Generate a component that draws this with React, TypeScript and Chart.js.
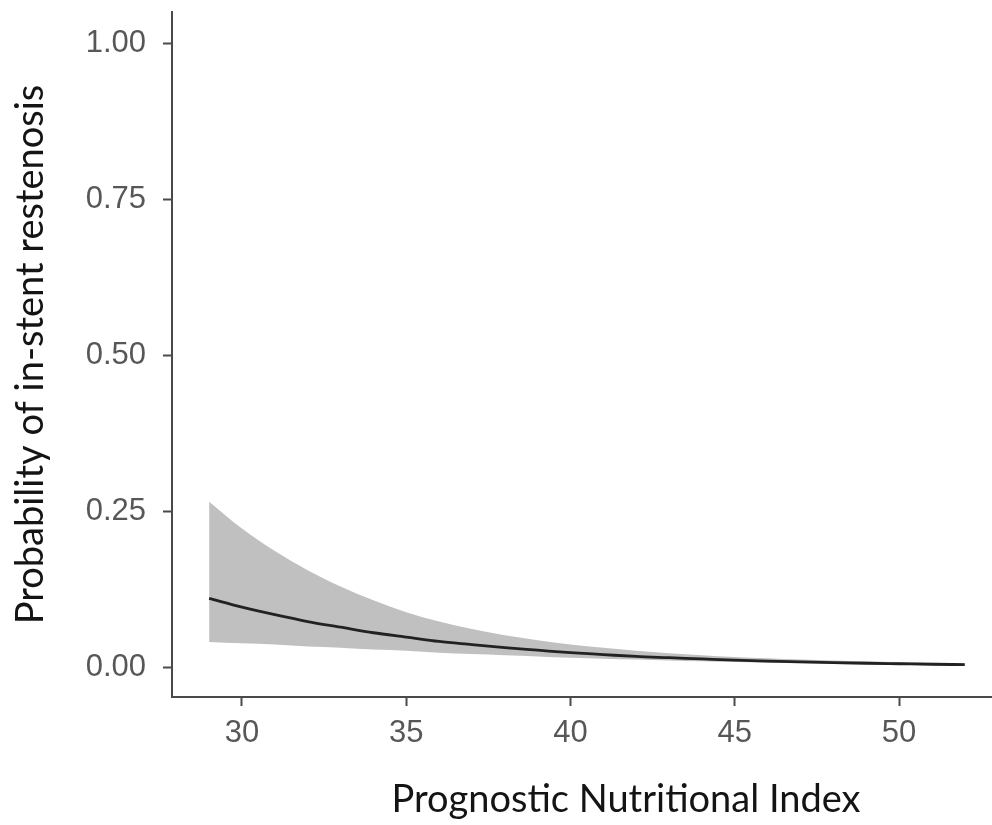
import React, { useEffect, useRef } from "react";
import { Chart, registerables } from "chart.js";

Chart.register(...registerables);

const pniValues = [29, 30, 31, 32, 33, 34, 35, 36, 37, 38, 39, 40, 41, 42, 43, 44, 45, 46, 47, 48, 49, 50, 51, 52];
const fitProb = [0.110, 0.096, 0.084, 0.073, 0.064, 0.055, 0.048, 0.041, 0.036, 0.031, 0.027, 0.023, 0.020, 0.017, 0.015, 0.013, 0.011, 0.0096, 0.0083, 0.0071, 0.0061, 0.0053, 0.0045, 0.0039];
const upperProb = [0.265, 0.222, 0.186, 0.155, 0.129, 0.107, 0.088, 0.073, 0.061, 0.051, 0.043, 0.036, 0.031, 0.026, 0.022, 0.019, 0.016, 0.014, 0.012, 0.0105, 0.0092, 0.0080, 0.0070, 0.0062];
const lowerProb = [0.040, 0.038, 0.036, 0.033, 0.031, 0.028, 0.026, 0.023, 0.021, 0.019, 0.017, 0.015, 0.0135, 0.012, 0.0105, 0.0092, 0.0080, 0.0069, 0.0059, 0.0050, 0.0043, 0.0036, 0.0030, 0.0025];
const xTicks = [30, 35, 40, 45, 50];
const yTicks = [0, 0.25, 0.5, 0.75, 1.0];
const xTitle = "Prognostic Nutritional Index";
const yTitle = "Probability of in-stent restenosis";

const toPoints = (ys: number[]) => pniValues.map((x, i) => ({ x, y: ys[i] }));

const titleFontStr = "38px Lato, 'Open Sans', sans-serif";

const xTitlePlugin = {
  id: "xTitlePlugin",
  afterDraw(chart: any) {
    const { ctx, chartArea } = chart;
    ctx.save();
    ctx.font = titleFontStr;
    ctx.fillStyle = "#141414";
    ctx.textAlign = "center";
    ctx.textBaseline = "middle";
    ctx.fillText(xTitle, chartArea.left + 454, chart.height - 25);
    ctx.restore();
  },
};

export default function App() {
  const ref = useRef<HTMLCanvasElement | null>(null);

  useEffect(() => {
    document.body.style.margin = "0";
    const canvas = ref.current;
    if (!canvas) return;
    const axisColor = "#4a4a4a";
    const tickFont = { family: "'Liberation Sans', Arial, sans-serif", size: 31 };
    const titleFont = { family: "Lato, 'Open Sans', sans-serif", size: 38 };
    const chart = new Chart(canvas, {
      type: "line",
      data: {
        datasets: [
          {
            label: "fit",
            data: toPoints(fitProb),
            borderColor: "#222222",
            borderWidth: 2.8,
            pointRadius: 0,
            fill: false,
            cubicInterpolationMode: "monotone",
            order: 0,
          },
          {
            label: "upper",
            data: toPoints(upperProb),
            borderWidth: 0,
            borderColor: "rgba(0,0,0,0)",
            backgroundColor: "rgb(192,192,192)",
            pointRadius: 0,
            fill: "+1",
            cubicInterpolationMode: "monotone",
            order: 1,
          },
          {
            label: "lower",
            data: toPoints(lowerProb),
            borderWidth: 0,
            borderColor: "rgba(0,0,0,0)",
            pointRadius: 0,
            fill: false,
            cubicInterpolationMode: "monotone",
            order: 2,
          },
        ],
      },
      plugins: [xTitlePlugin],
      options: {
        animation: false,
        responsive: false,
        maintainAspectRatio: false,
        layout: { autoPadding: false, padding: { left: 0, right: 0, top: 12, bottom: 0 } },
        plugins: {
          legend: { display: false },
          tooltip: { enabled: false },
        },
        scales: {
          x: {
            type: "linear",
            min: 27.87,
            max: 52.83,
            afterBuildTicks: (scale: any) => {
              scale.ticks = xTicks.map((v) => ({ value: v }));
            },
            afterFit: (scale: any) => {
              scale.height = 128;
              scale.paddingLeft = 0;
              scale.paddingRight = 0;
            },
            border: { display: true, color: axisColor, width: 2 },
            grid: { display: true, drawOnChartArea: false, drawTicks: true, tickLength: 9, tickWidth: 2, tickColor: axisColor },
            ticks: { color: "#575757", font: tickFont, padding: 9, maxRotation: 0 },
            title: { display: false },
          },
          y: {
            type: "linear",
            min: -0.048,
            max: 1.05,
            afterBuildTicks: (scale: any) => {
              scale.ticks = yTicks.map((v) => ({ value: v }));
            },
            afterFit: (scale: any) => {
              scale.width = 172;
              scale.paddingTop = 0;
              scale.paddingBottom = 0;
            },
            border: { display: true, color: axisColor, width: 2 },
            grid: { display: true, drawOnChartArea: false, drawTicks: true, tickLength: 9, tickWidth: 2, tickColor: axisColor },
            ticks: {
              color: "#575757",
              font: tickFont,
              padding: 17,
              callback: (v: any) => Number(v).toFixed(2),
            },
            title: { display: true, text: yTitle, color: "#141414", font: titleFont, padding: { top: 8, bottom: 0 } },
          },
        },
      },
    } as any);
    return () => chart.destroy();
  }, []);

  return (
    <div style={{ width: 992, height: 825, background: "#ffffff" }}>
      <canvas ref={ref} width={992} height={825} style={{ display: "block" }} />
    </div>
  );
}
